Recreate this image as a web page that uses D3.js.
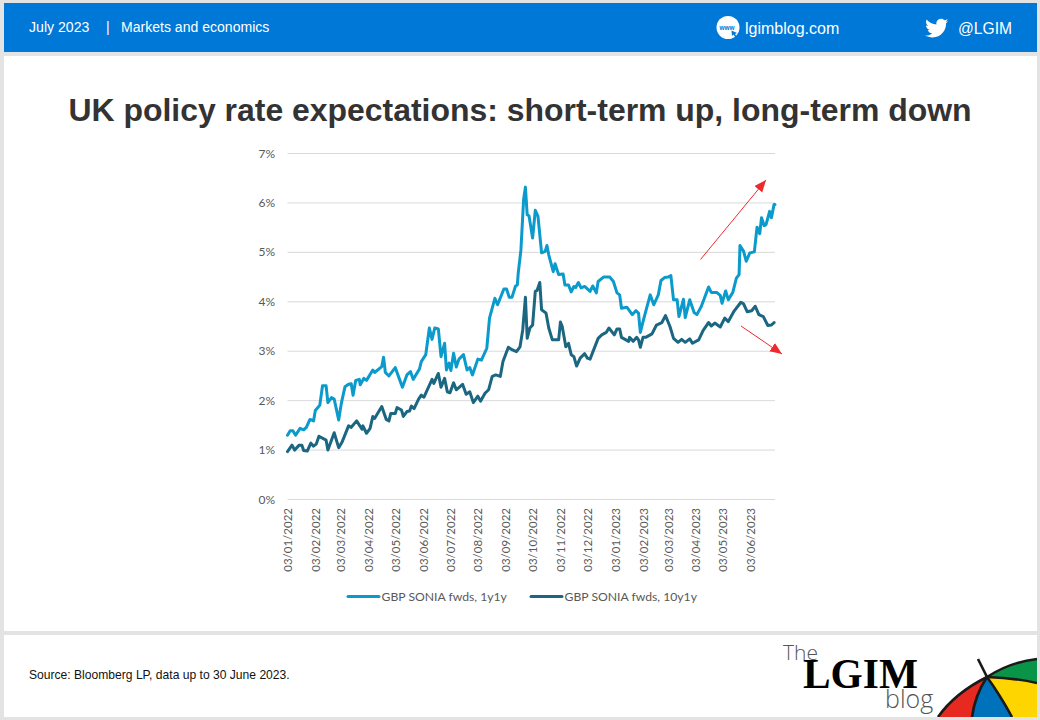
<!DOCTYPE html>
<html><head><meta charset="utf-8">
<script src="https://d3js.org/d3.v7.min.js"></script>
<style>html,body{margin:0;padding:0;background:#e3e3e3}svg{display:block}</style>
</head><body><svg id="c" width="1040" height="720"></svg>
<script>
const startDate = new Date(2022,0,3);
const tickLabels = ["03/01/2022","03/02/2022","03/03/2022","03/04/2022","03/05/2022","03/06/2022","03/07/2022","03/08/2022","03/09/2022","03/10/2022","03/11/2022","03/12/2022","03/01/2023","03/02/2023","03/03/2023","03/04/2023","03/05/2023","03/06/2023"];
const yTicks = [0,1,2,3,4,5,6,7];
const seriesNames = ["GBP SONIA fwds, 1y1y","GBP SONIA fwds, 10y1y"];
const seriesColors = ["#0a9acb","#1b6680"];
// [days since 3 Jan 2022, rate in %]
const series1y1y = [[0,1.30],[3,1.39],[6,1.39],[9,1.30],[14,1.44],[18,1.41],[21,1.46],[25,1.62],[29,1.59],[31,1.80],[36,1.91],[39,2.30],[43,2.30],[45,1.96],[49,2.06],[52,2.03],[57,1.61],[60,1.95],[64,2.28],[68,2.33],[71,2.34],[73,2.11],[76,2.41],[80,2.43],[81,2.32],[85,2.45],[88,2.41],[95,2.62],[97,2.57],[105,2.69],[107,2.88],[109,2.57],[113,2.50],[120,2.67],[125,2.42],[128,2.27],[133,2.52],[137,2.59],[140,2.43],[147,2.64],[149,2.79],[154,2.93],[158,3.47],[161,3.24],[164,3.47],[168,3.45],[171,2.89],[175,3.16],[177,2.62],[180,2.76],[182,2.61],[185,2.96],[188,2.68],[191,2.84],[196,2.93],[200,2.62],[203,2.67],[206,2.52],[212,2.84],[216,2.82],[222,3.06],[225,3.67],[231,4.07],[234,3.94],[241,4.26],[244,4.26],[247,4.09],[250,4.09],[254,4.32],[256,4.34],[257,4.58],[260,5.05],[263,6.07],[265,6.32],[267,5.76],[269,5.74],[273,5.29],[276,5.85],[279,5.73],[281,5.36],[283,4.99],[287,5.02],[289,5.14],[291,4.95],[296,4.61],[298,4.77],[302,4.55],[307,4.56],[309,4.34],[313,4.34],[316,4.20],[319,4.31],[321,4.29],[324,4.39],[327,4.28],[331,4.31],[337,4.21],[340,4.32],[344,4.18],[346,4.41],[352,4.50],[359,4.50],[363,4.41],[367,4.18],[370,4.14],[372,3.87],[378,3.89],[384,3.74],[388,3.82],[391,3.77],[393,3.38],[396,3.60],[400,3.87],[404,4.14],[408,3.94],[413,4.14],[416,4.43],[420,4.49],[424,4.50],[427,4.53],[430,4.04],[434,4.04],[436,3.70],[441,4.05],[443,3.68],[448,4.04],[453,3.78],[456,3.74],[461,3.91],[469,4.30],[472,4.19],[478,4.19],[482,4.13],[484,3.97],[488,4.22],[491,4.04],[496,4.19],[500,4.48],[503,4.55],[504,5.14],[508,5.02],[511,4.82],[515,4.99],[520,5.01],[523,5.51],[526,5.38],[528,5.70],[531,5.54],[533,5.56],[537,5.83],[539,5.70],[542,5.97],[543,5.97]];
const series10y1y = [[0,0.97],[5,1.10],[8,1.00],[13,1.10],[16,1.10],[18,0.99],[22,0.98],[26,1.14],[29,1.08],[32,1.12],[35,1.28],[43,1.20],[45,1.00],[52,1.35],[57,1.05],[61,1.17],[68,1.49],[71,1.46],[77,1.59],[83,1.42],[84,1.49],[88,1.34],[92,1.44],[95,1.68],[97,1.64],[105,1.88],[110,1.62],[113,1.59],[115,1.74],[120,1.74],[122,1.86],[127,1.81],[129,1.68],[133,1.78],[136,1.79],[138,1.89],[141,1.84],[146,2.03],[149,2.11],[152,2.07],[161,2.43],[163,2.35],[168,2.55],[171,2.27],[175,2.45],[178,2.18],[181,2.16],[185,2.36],[188,2.22],[195,2.33],[199,2.13],[203,2.18],[207,1.96],[212,2.09],[215,1.99],[220,2.15],[224,2.22],[228,2.49],[232,2.52],[237,2.49],[240,2.79],[246,3.08],[250,3.03],[255,2.99],[259,3.09],[262,3.43],[265,4.09],[267,3.26],[270,3.47],[273,3.53],[276,4.21],[278,4.23],[281,4.39],[283,3.84],[288,3.77],[291,3.47],[295,3.23],[302,3.23],[304,3.59],[306,3.50],[310,3.09],[313,3.16],[316,2.93],[319,2.89],[322,2.70],[326,2.86],[331,2.95],[334,2.86],[337,2.84],[346,3.26],[350,3.33],[355,3.38],[358,3.47],[364,3.33],[367,3.45],[370,3.45],[372,3.28],[380,3.20],[381,3.28],[385,3.20],[389,3.28],[391,3.23],[393,3.08],[396,3.28],[399,3.28],[406,3.35],[411,3.53],[417,3.58],[421,3.72],[426,3.50],[430,3.26],[435,3.18],[439,3.24],[443,3.18],[448,3.25],[451,3.16],[458,3.23],[463,3.42],[469,3.58],[472,3.51],[476,3.57],[482,3.49],[487,3.67],[491,3.60],[497,3.80],[505,3.99],[508,3.96],[512,3.80],[517,3.82],[521,3.91],[525,3.74],[530,3.70],[535,3.52],[539,3.53],[542,3.58]];
const arrow1 = [[700.5,259.5],[766,180]];
const arrow2 = [[741,326],[782,354]];

const svg = d3.select("#c");
const panels=[[4,3,1033,49,"#0078d7"],[4,56,1033,575,"#fff"],[4,635,1033,82,"#fff"]];
svg.selectAll("rect.p").data(panels).join("rect").attr("x",d=>d[0]).attr("y",d=>d[1]).attr("width",d=>d[2]).attr("height",d=>d[3]).attr("fill",d=>d[4]);
const arial="Liberation Sans, Arial, sans-serif", cal="Lato, sans-serif";
const t=(x,y,s,o={})=>svg.append("text").attr("x",x).attr("y",y).attr("font-family",o.f||arial).attr("font-size",o.s||14).attr("fill",o.c||"#fff").attr("font-weight",o.w||400).attr("text-anchor",o.a||"start").attr("textLength",o.l||null).attr("lengthAdjust",o.l?"spacingAndGlyphs":null).text(s);
t(29,32,"July 2023",{s:14.1});
t(106,32,"|",{s:14});
t(121,32,"Markets and economics",{s:14.06});
t(745,34,"lgimblog.com",{s:16});
t(958,34,"@LGIM",{s:15.6});
svg.append("circle").attr("cx",728).attr("cy",27.5).attr("r",11.5).attr("fill","#fff");
t(727,29.5,"www",{s:6.5,c:"#0078d7",a:"middle",w:700});
svg.append("path").attr("d","M731.500,30.500L737,33L735,34L737,37L735.500,37.500L733.500,34.500L732,36Z").attr("fill","#0078d7");
svg.append("path").attr("transform","translate(925,16.5) scale(0.97)").attr("fill","#fff")
 .attr("d","M24 4.6c-.9.4-1.8.7-2.8.8 1-.6 1.8-1.6 2.2-2.7-1 .6-2 1-3.1 1.2C19.3 2.8 18 2.2 16.6 2.2c-3.2 0-5.5 3-4.8 6C7.700 8 4.100 6 1.700 3 .4 5.200 1 8.100 3.200 9.600c-.8 0-1.600-.2-2.200-.6 0 2.300 1.600 4.400 4 4.900-.7.2-1.500.2-2.200.1.600 2 2.500 3.400 4.600 3.400-2 1.600-4.600 2.300-7.200 2 2.200 1.400 4.800 2.200 7.500 2.200 9.100 0 14.300-7.700 14-14.600 1-.7 1.800-1.600 2.300-2.500z");
t(520,121,"UK policy rate expectations: short-term up, long-term down",{s:31.95,w:700,c:"#333",a:"middle"});

// chart
const x=d3.scaleTime().domain([startDate,d3.timeDay.offset(startDate,543)]).range([287.5,775]);
const y=d3.scaleLinear().domain([0,7]).range([499.5,153.5]);
const dateOf=d=>d3.timeDay.offset(startDate,d);
svg.selectAll("line.g").data(yTicks).join("line").attr("x1",287.5).attr("x2",775).attr("y1",d=>y(d)).attr("y2",d=>y(d)).attr("stroke","#d9d9d9").attr("stroke-width",1);
svg.selectAll("text.y").data(yTicks).join("text").attr("x",275).attr("y",d=>y(d)+4).attr("text-anchor","end").attr("font-family",cal).attr("font-size",12).attr("fill","#595959").text(d=>d+"%");
const parse=d3.timeParse("%d/%m/%Y");
svg.selectAll("text.x").data(tickLabels).join("text").attr("transform",d=>`translate(${x(parse(d))+4.5},508) rotate(-90)`).attr("text-anchor","end").attr("font-family",cal).attr("font-size",11.5).attr("fill","#595959").text(d=>d);
const line=d3.line().x(d=>x(dateOf(d[0]))).y(d=>y(d[1])).curve(d3.curveLinear);
[series1y1y,series10y1y].forEach((s,i)=>{
  svg.append("path").attr("d",line(s)).attr("fill","none").attr("stroke",seriesColors[i]).attr("stroke-width",3).attr("stroke-linejoin","round").attr("stroke-linecap","round");
});
// legend
const lx=[348,531];
seriesNames.forEach((n,i)=>{
  svg.append("line").attr("x1",lx[i]).attr("x2",lx[i]+31).attr("y1",596.5).attr("y2",596.5).attr("stroke",seriesColors[i]).attr("stroke-width",3).attr("stroke-linecap","round");
  t(lx[i]+33.5,600.5,n,{f:cal,s:12.2,c:"#595959"});
});
// arrows
const defs=svg.append("defs");
defs.append("marker").attr("id","ah").attr("markerUnits","userSpaceOnUse").attr("markerWidth",13).attr("markerHeight",11).attr("refX",12).attr("refY",5).attr("orient","auto").append("path").attr("d","M0,0L12,5L0,10Z").attr("fill","#ee2a2e");
[arrow1,arrow2].forEach(a=>svg.append("line").attr("x1",a[0][0]).attr("y1",a[0][1]).attr("x2",a[1][0]).attr("y2",a[1][1]).attr("stroke","#ee2a2e").attr("stroke-width",1).attr("marker-end","url(#ah)"));
// footer
t(29,679,"Source: Bloomberg LP, data up to 30 June 2023.",{s:12.1,c:"#111"});
t(783,660,"The",{s:21,c:"#555",w:300,f:"Open Sans, sans-serif"});
t(803,688,"LGIM",{s:42,c:"#000",w:700,f:"Liberation Serif, serif",l:115});
t(885,708,"blog",{s:25,c:"#555",w:300,f:"Open Sans, sans-serif"});
// umbrella
const clip=defs.append("clipPath").attr("id","uc");clip.append("rect").attr("x",900).attr("y",640).attr("width",137).attr("height",77);
const ug=svg.append("g").attr("clip-path","url(#uc)");
const wedges=[["#e8291f","M938,717Q955,693 987,677Q975,695 972,717Z"],["#0072bc","M972,717Q975,695 987,677Q1000,695 1012,717Z"],["#ffd500","M987,677Q1015,678 1037,683V717H1012Q1000,695 987,677Z"],["#0a9448","M987,677Q1010,662 1037,659V683Q1015,678 987,677Z"]];
wedges.forEach(w=>ug.append("path").attr("d",w[1]).attr("fill",w[0]));
["M938,717Q955,693 987,677Q1010,662 1037,659","M987,677Q975,695 972,717","M987,677Q1000,695 1012,717","M987,677Q1015,678 1037,683","M978,659L987,677"].forEach(p=>ug.append("path").attr("d",p).attr("fill","none").attr("stroke","#1a1a1a").attr("stroke-width",2.6));
</script></body></html>
